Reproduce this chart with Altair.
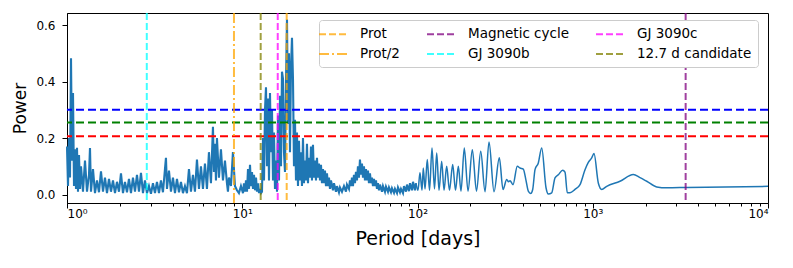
import altair as alt
import pandas as pd

# ---- periodogram, 1-10 d ----
period_a = [1.000, 1.0132, 1.0266, 1.0402, 1.0540, 1.0679, 1.0820, 1.0963, 1.1108, 1.1255,
            1.1403, 1.1554, 1.1707, 1.1862, 1.2018, 1.2338, 1.2667, 1.3004, 1.3350, 1.3526,
            1.3705, 1.4070, 1.4444, 1.4829, 1.5223, 1.5629, 1.6045, 1.6472, 1.6910, 1.7360,
            1.7822, 1.8297, 1.8784, 1.9284, 1.9797, 2.0324, 2.0865, 2.1420, 2.1990, 2.2576,
            2.3177, 2.3794, 2.4427, 2.5077, 2.5745, 2.6430, 2.7134, 2.7856, 2.8597, 2.9358,
            3.0140, 3.0942, 3.1766, 3.2611, 3.3479, 3.4370, 3.5285, 3.6225, 3.670, 3.7189,
            3.8178, 3.9195, 4.0238, 4.1309, 4.2409, 4.3538, 4.4697, 4.5887, 4.7108, 4.8362,
            4.9649, 5.0971, 5.2328, 5.3721, 5.5151, 5.6619, 5.8126, 5.9674, 6.1262, 6.2893,
            6.4567, 6.6286, 6.8051, 6.895, 6.9862, 7.0786, 7.1722, 7.3631, 7.5591, 7.7603,
            7.9669, 8.1790, 8.2871, 8.3967, 8.6202, 8.8497, 9.0853, 9.3271, 9.5754, 9.8303]
power_a = [0.17, 0.03, 0.20, 0.06, 0.483, 0.12, 0.36, 0.03, 0.16, 0.02,
           0.166, 0.01, 0.14, 0.02, 0.10, 0.01, 0.12, 0.01, 0.07, 0.165,
           0.01, 0.09, 0.005, 0.05, 0.008, 0.082, 0.01, 0.06, 0.005, 0.055,
           0.01, 0.05, 0.005, 0.045, 0.01, 0.075, 0.005, 0.045, 0.008, 0.055,
           0.005, 0.06, 0.01, 0.07, 0.01, 0.077, 0.005, 0.05, 0.005, 0.03,
           0.003, 0.04, 0.005, 0.045, 0.005, 0.05, 0.008, 0.09, 0.13, 0.02,
           0.085, 0.01, 0.06, 0.005, 0.055, 0.008, 0.045, 0.005, 0.03, 0.005,
           0.09, 0.01, 0.07, 0.01, 0.124, 0.02, 0.10, 0.02, 0.11, 0.02,
           0.15, 0.04, 0.24, 0.08, 0.18, 0.05, 0.20, 0.06, 0.16, 0.05,
           0.12, 0.04, 0.01, 0.06, 0.03, 0.15, 0.03, 0.015, 0.005, 0.03]

# ---- periodogram, 10-100 d ----
period_b = [10.099, 10.232, 10.368, 10.505, 10.644, 10.785, 10.927, 11.072, 11.218, 11.367,
            11.517, 11.669, 11.824, 11.980, 12.138, 12.299, 12.461, 12.626, 12.793, 12.962,
            13.134, 13.307, 13.483, 13.661, 13.842, 14.025, 14.210, 14.398, 14.589, 14.781,
            14.977, 15.175, 15.375, 15.579, 15.785, 15.993, 16.205, 16.419, 16.636, 16.856,
            17.079, 17.304, 17.533, 17.765, 18.000, 18.238, 18.479, 18.723, 18.971, 19.222,
            19.476, 19.733, 19.994, 20.258, 20.526, 20.797, 21.072, 21.351, 21.633, 21.919,
            22.209, 22.503, 22.800, 23.102, 23.407, 23.717, 24.030, 24.348, 24.670, 24.996,
            25.327, 25.662, 26.001, 26.345, 26.693, 27.046, 27.403, 27.766, 28.133, 28.505,
            28.881, 29.263, 29.650, 30.042, 30.439, 30.842, 31.250, 31.663, 32.081, 32.935,
            33.370, 34.258, 34.711, 35.635, 36.106, 37.07, 38.06, 39.07, 39.59, 40.64,
            41.18, 41.72, 42.27, 42.83, 43.40, 43.97, 44.55, 45.14, 45.74, 46.34,
            46.96, 47.58, 48.21, 48.85, 49.49, 50.15, 50.81, 51.48, 52.16, 52.85,
            53.55, 54.26, 54.98, 55.71, 56.44, 57.19, 57.95, 58.71, 59.49, 60.28,
            61.08, 62.71, 63.54, 65.23, 66.09, 67.85, 68.75, 70.58, 71.51, 73.42,
            74.39, 76.37, 77.38, 79.44, 80.49, 82.64, 83.73, 85.96, 87.10, 89.42,
            90.60, 93.02, 94.25, 96.76, 98.04]
power_b = [0.005, 0.04, 0.01, 0.05, 0.01, 0.09, 0.02, 0.105, 0.03, 0.08,
           0.02, 0.07, 0.015, 0.06, 0.01, 0.04, 0.005, 0.02, 0.005, 0.01,
           0.20, 0.05, 0.30, 0.38, 0.10, 0.34, 0.05, 0.36, 0.15, 0.30,
           0.05, 0.22, 0.02, 0.12, 0.01, 0.28, 0.05, 0.35, 0.10, 0.435,
           0.41, 0.15, 0.08, 0.40, 0.62, 0.25, 0.50, 0.15, 0.45, 0.555,
           0.41, 0.10, 0.265, 0.05, 0.22, 0.03, 0.19, 0.05, 0.15, 0.03,
           0.20, 0.04, 0.12, 0.05, 0.18, 0.04, 0.13, 0.06, 0.17, 0.05,
           0.176, 0.06, 0.12, 0.05, 0.13, 0.06, 0.11, 0.05, 0.105, 0.04,
           0.09, 0.04, 0.085, 0.03, 0.075, 0.03, 0.06, 0.02, 0.05, 0.015,
           0.04, 0.01, 0.03, 0.008, 0.025, 0.01, 0.03, 0.01, 0.035, 0.02,
           0.05, 0.03, 0.06, 0.03, 0.07, 0.04, 0.08, 0.05, 0.10, 0.06,
           0.124, 0.07, 0.11, 0.06, 0.10, 0.05, 0.09, 0.05, 0.085, 0.04,
           0.075, 0.04, 0.06, 0.03, 0.055, 0.03, 0.05, 0.02, 0.04, 0.015,
           0.035, 0.01, 0.03, 0.01, 0.028, 0.01, 0.025, 0.008, 0.022, 0.006,
           0.02, 0.005, 0.025, 0.008, 0.02, 0.005, 0.03, 0.01, 0.035, 0.012,
           0.04, 0.015, 0.045, 0.015, 0.04]

# ---- periodogram, >100 d ----
period_c = [100.65, 103.3, 106.1, 107.9, 110.4, 113.7, 117.1, 121.0, 125.0, 128.7,
            132.7, 137.4, 141.7, 146.7, 152.2, 158.8, 164.8, 171.0, 177.1, 184.9,
            194.2, 205.5, 217.1, 229.5, 242.8, 255.9, 273.3, 293.0, 307.6, 322.9,
            330.6, 337.2, 350.8, 371.0, 384.5, 401.5, 416.0, 428.8, 442.5, 454.3,
            468.3, 489.1, 511.4, 541.1, 557.7, 583.2, 609.0, 635.9, 673.8, 694.5,
            715.8, 741.7, 791.9, 845.8, 903.3, 943.4, 986.3, 1016.6, 1075.8, 1124.9,
            1201.3, 1430.1, 1703.6, 1860.6, 2032.3, 2317.1, 2642.0, 3436.6, 10000]
power_c = [0.015, 0.077, 0.015, 0.094, 0.02, 0.124, 0.015, 0.165, 0.02, 0.147,
           0.015, 0.118, 0.015, 0.10, 0.015, 0.106, 0.015, 0.10, 0.012, 0.165,
           0.012, 0.159, 0.012, 0.153, 0.01, 0.186, 0.01, 0.13, 0.018, 0.053,
           0.045, 0.049, 0.035, 0.10, 0.094, 0.09, 0.05, 0.012, 0.004, 0.018,
           0.088, 0.112, 0.165, 0.024, 0.002, 0.006, 0.059, 0.07, 0.086, 0.079,
           0.006, 0.006, 0.018, 0.035, 0.088, 0.114, 0.13, 0.145, 0.041, 0.018,
           0.029, 0.047, 0.071, 0.06, 0.047, 0.027, 0.024, 0.025, 0.029]

# ---- vertical markers (legend fills column by column, 3 columns) ----
marker_names = ["Prot", "Prot/2", "Magnetic cycle", "GJ 3090b", "GJ 3090c", "12.7 d candidate"]
marker_periods = [17.93, 8.97, 3389.0, 2.853, 15.94, 12.74]
marker_colors = ["#ffa500", "#ffa500", "#800080", "#00ffff", "#ff00ff", "#808000"]
marker_dashes = [[7, 3], [10, 3, 2, 3], [7, 3], [7, 3], [7, 3], [7, 3]]

# ---- false-alarm levels ----
level_values = [0.300, 0.255, 0.206]
level_colors = ["#0000ff", "#008000", "#ff0000"]

# ---- axis ticks ----
x_major = [1, 10, 100, 1000, 10000]
x_ticks = [m * 10 ** e for e in range(4) for m in range(1, 10)] + [10000]
y_ticks = [0.0, 0.1, 0.2, 0.3, 0.4, 0.5, 0.6]

dense_df = pd.DataFrame({"period": period_a + period_b, "power": power_a + power_b})
smooth_df = pd.DataFrame({"period": period_b[-1:] + period_c, "power": power_b[-1:] + power_c})
vdf = pd.DataFrame({"name": marker_names, "period": marker_periods})
hdf = pd.DataFrame({"level": level_values, "col": level_colors})

x_scale = alt.Scale(type="log", domain=[1, 10000], nice=False)
y_scale = alt.Scale(domain=[-0.03, 0.643], nice=False, zero=False)

label_expr = ("datum.value == 1 ? '10⁰' : datum.value == 10 ? '10¹' : "
              "datum.value == 100 ? '10²' : datum.value == 1000 ? '10³' : "
              "datum.value == 10000 ? '10⁴' : ''")

x_axis = alt.Axis(values=x_ticks, labelExpr=label_expr, labelOverlap=False,
                  tickSize={"condition": {"test": "indexof(%s, datum.value) >= 0" % x_major,
                                          "value": 5}, "value": 3},
                  labelFontSize=12, labelPadding=0, titleFontSize=19, titlePadding=10)
y_axis = alt.Axis(values=y_ticks, format=".1f", tickSize=5, labelFontSize=12,
                  labelPadding=7, titleFontSize=17, titlePadding=6)

dense = alt.Chart(dense_df).mark_line(color="#1f77b4", strokeWidth=2.1).encode(
    x=alt.X("period:Q", scale=x_scale, axis=x_axis, title="Period [days]"),
    y=alt.Y("power:Q", scale=y_scale, axis=y_axis, title="Power"),
)
smooth = alt.Chart(smooth_df).mark_line(color="#1f77b4", strokeWidth=1.5,
                                        interpolate="monotone").encode(
    x=alt.X("period:Q", scale=x_scale),
    y=alt.Y("power:Q", scale=y_scale),
)

hrules = alt.Chart(hdf).mark_rule(strokeWidth=2, strokeDash=[8, 4]).encode(
    y=alt.Y("level:Q", scale=y_scale),
    stroke=alt.Stroke("col:N", scale=None),
)

leg = alt.Legend(title=None, orient="none", legendX=252, legendY=7, columns=3,
                 symbolType="M-2,0H2", symbolSize=196, symbolStrokeWidth=2,
                 symbolOpacity=0.75, labelFont="DejaVu Sans", labelFontSize=13.5,
                 labelOffset=19, columnPadding=23, rowPadding=5, padding=6,
                 fillColor="white", strokeColor="#cccccc", cornerRadius=3,
                 labelLimit=400, labelColor="black")

vrules = alt.Chart(vdf).mark_rule(strokeWidth=2, opacity=0.75).encode(
    x=alt.X("period:Q", scale=x_scale),
    color=alt.Color("name:N", scale=alt.Scale(domain=marker_names, range=marker_colors),
                    legend=leg),
    strokeDash=alt.StrokeDash("name:N", scale=alt.Scale(domain=marker_names, range=marker_dashes),
                              legend=leg),
)

chart = alt.layer(dense, smooth, hrules, vrules).properties(
    width=701, height=190,
    padding={"left": 59, "top": 5, "right": 17, "bottom": 57},
    autosize="none",
).configure_view(
    stroke="black", strokeWidth=1
).configure_axis(
    domainColor="black", tickColor="black", labelColor="black", titleColor="black",
    grid=False, labelFont="DejaVu Sans", titleFont="DejaVu Sans", titleFontWeight="normal",
    domainWidth=1, tickWidth=1
)

chart.save("out.html", embed_options={"renderer": "svg", "actions": False})
